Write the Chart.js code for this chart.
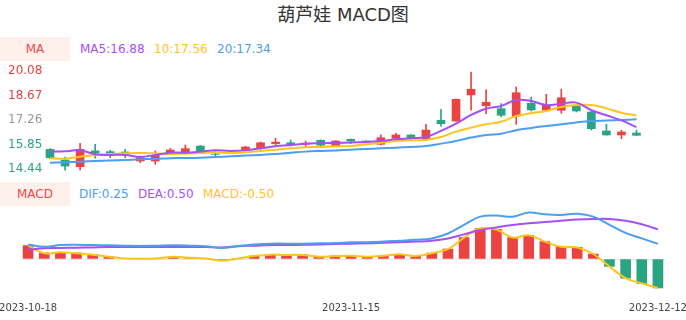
<!DOCTYPE html>
<html>
<head>
<meta charset="utf-8">
<script src="https://cdn.jsdelivr.net/npm/chart.js@4.4.0/dist/chart.umd.min.js"></script>
<style>
body{margin:0;width:686px;height:320px;position:relative;background:#fff;overflow:hidden;font-family:"DejaVu Sans","Noto Sans CJK SC",sans-serif}
.title{position:absolute;left:0;top:3px;width:686px;text-align:center;font-size:18px;line-height:24px;color:#333}
.tag{position:absolute;left:0;width:70px;height:24px;line-height:24px;background:#fdf0eb;color:#f04848;text-align:center;font-size:12px}
.leg{position:absolute;font-size:12px;line-height:24px;white-space:nowrap}
canvas{position:absolute;left:0}
</style>
</head>
<body>
<div class="title">葫芦娃 MACD图</div>

<div class="tag" style="top:37px">MA</div>
<div class="leg" style="top:37px;left:80px;color:#a64ff5">MA5:16.88</div>
<div class="leg" style="top:37px;left:154px;color:#ffc51a">10:17.56</div>
<div class="leg" style="top:37px;left:217px;color:#4c9ef0">20:17.34</div>

<div class="tag" style="top:182px">MACD</div>
<div class="leg" style="top:182px;left:79px;color:#4c9ef0">DIF:0.25</div>
<div class="leg" style="top:182px;left:138px;color:#a64ff5">DEA:0.50</div>
<div class="leg" style="top:182px;left:203px;color:#ffc51a">MACD:-0.50</div>

<canvas id="kline" width="686" height="120" style="top:61px"></canvas>
<canvas id="macd" width="686" height="120" style="top:200px"></canvas>

<script>
// trading days
var dates = ['2023-10-18','2023-10-19','2023-10-20','2023-10-23','2023-10-24','2023-10-25','2023-10-26','2023-10-27','2023-10-30','2023-10-31',
    '2023-11-01','2023-11-02','2023-11-03','2023-11-06','2023-11-07','2023-11-08','2023-11-09','2023-11-10','2023-11-13','2023-11-14',
    '2023-11-15','2023-11-16','2023-11-17','2023-11-20','2023-11-21','2023-11-22','2023-11-23','2023-11-24','2023-11-27','2023-11-28',
    '2023-11-29','2023-11-30','2023-12-01','2023-12-04','2023-12-05','2023-12-06','2023-12-07','2023-12-08','2023-12-11','2023-12-12'];
var shownDates = ['2023-10-18', '2023-11-15', '2023-12-12'];

var open  = [15.57,14.96,14.57,15.48,15.44,15.42,14.90,14.90,15.32,15.38,15.76,15.30,15.36,15.52,15.61,15.90,15.95,15.86,16.09,15.78,
             16.15,16.05,15.86,16.21,16.40,16.15,17.24,17.20,18.70,18.08,17.91,17.49,18.22,17.82,17.82,18.07,17.72,16.63,16.40,16.51];
var close = [15.09,14.61,15.57,15.36,15.29,15.30,15.09,15.23,15.53,15.61,15.44,15.28,15.35,15.71,15.95,15.99,15.82,15.93,15.81,16.05,
             16.05,15.98,16.24,16.40,16.21,16.68,17.05,18.45,19.03,18.28,17.53,18.83,17.84,18.11,18.54,17.78,16.76,16.40,16.57,16.38];
var high  = [15.62,15.13,15.92,15.86,15.52,15.57,15.19,15.48,15.63,15.82,15.80,15.52,15.38,15.75,16.00,16.21,16.11,16.05,16.12,16.07,
             16.17,16.07,16.40,16.49,16.42,17.01,17.88,18.47,20.02,18.99,18.20,19.16,18.58,18.74,19.03,18.10,17.75,17.01,16.67,16.67];
var low   = [15.05,14.37,14.38,15.06,15.09,15.09,14.80,14.71,15.29,15.32,15.40,15.09,15.33,15.50,15.57,15.81,15.76,15.71,15.78,15.76,
             15.90,15.95,15.83,16.13,16.18,16.10,16.91,17.18,17.82,17.62,17.45,17.01,17.78,17.78,17.65,17.72,16.68,16.38,16.18,16.36];

var ma5  = [15.44,15.46,15.52,15.29,15.25,15.25,15.13,15.25,15.38,15.38,15.44,15.52,15.48,15.52,15.63,15.75,15.82,15.90,15.92,15.94,
            15.97,15.99,16.05,16.15,16.21,16.28,16.63,17.05,17.55,17.91,18.07,18.41,18.35,18.12,18.20,18.26,17.82,17.53,17.24,16.85];
var ma10 = [15.06,15.03,15.15,15.25,15.30,15.34,15.36,15.34,15.30,15.32,15.36,15.40,15.36,15.40,15.48,15.55,15.63,15.69,15.71,15.75,
            15.76,15.86,15.95,16.05,16.09,16.11,16.28,16.59,16.82,17.01,17.16,17.49,17.65,17.78,18.01,18.12,18.12,17.93,17.68,17.52];
var ma20 = [14.80,14.83,14.86,14.90,14.93,14.96,15.00,15.02,15.06,15.07,15.09,15.13,15.17,15.21,15.25,15.30,15.37,15.44,15.48,15.51,
            15.55,15.59,15.63,15.67,15.71,15.76,15.90,16.05,16.25,16.40,16.47,16.67,16.80,16.91,17.01,17.12,17.20,17.23,17.26,17.30];
var priceTicks = [14.44, 15.85, 17.26, 18.67, 20.08];

var dif  = [0.25,0.21,0.24,0.245,0.24,0.235,0.23,0.225,0.23,0.235,0.23,0.22,0.19,0.225,0.25,0.265,0.265,0.265,0.27,0.275,
            0.29,0.29,0.30,0.315,0.33,0.355,0.44,0.59,0.73,0.75,0.73,0.80,0.77,0.76,0.78,0.73,0.59,0.45,0.355,0.26];
var dea  = [0.16,0.185,0.19,0.195,0.20,0.205,0.205,0.205,0.205,0.205,0.205,0.205,0.20,0.22,0.23,0.24,0.24,0.245,0.25,0.26,
            0.265,0.27,0.28,0.29,0.30,0.315,0.355,0.425,0.50,0.545,0.585,0.615,0.64,0.66,0.68,0.69,0.69,0.66,0.60,0.51];
var macd = [0.23,0.10,0.115,0.10,0.075,0.04,0.01,0.005,0.01,0.04,0.02,0.01,-0.03,0.01,0.05,0.075,0.07,0.07,0.04,0.05,
            0.055,0.04,0.055,0.08,0.05,0.10,0.17,0.37,0.53,0.51,0.37,0.41,0.30,0.21,0.20,0.086,-0.13,-0.33,-0.42,-0.50];

var RED = '#eb4242';
var GREEN = '#2aa583';
var PURPLE = '#a64ff5';
var YELLOW = '#ffc51a';
var BLUE = '#4c9ef0';

var candleColors = dates.map((d, i) => close[i] >= open[i] ? RED : GREEN);

function maLine(label, data, color) {
    return {
        type: 'line',
        label: label,
        data: data,
        borderColor: color,
        borderWidth: 2,
        pointRadius: 0,
        tension: 0.4,
        order: 0
    };
}

new Chart(document.getElementById('kline'), {
    type: 'bar',
    data: {
        labels: dates,
        datasets: [
            maLine('MA5', ma5, PURPLE),
            maLine('MA10', ma10, YELLOW),
            maLine('MA20', ma20, BLUE),
            {
                label: 'body',
                data: dates.map((d, i) => [open[i], close[i]]),
                backgroundColor: candleColors,
                barThickness: 8,
                grouped: false,
                clip: false,
                order: 1
            },
            {
                label: 'wick',
                data: dates.map((d, i) => [low[i], high[i]]),
                backgroundColor: candleColors,
                barThickness: 1,
                grouped: false,
                clip: false,
                order: 2
            }
        ]
    },
    options: {
        responsive: false,
        animation: false,
        layout: { padding: { left: 8, right: 42, top: 10, bottom: 12 } },
        plugins: { legend: { display: false }, tooltip: { enabled: false } },
        scales: {
            x: { display: false, offset: true },
            y: {
                min: 14.44,
                max: 20.08,
                afterBuildTicks: scale => { scale.ticks = priceTicks.map(v => ({ value: v })); },
                afterFit: scale => { scale.width = 34.5; },
                grid: { display: false, drawTicks: false },
                border: { display: false },
                ticks: {
                    crossAlign: 'far',
                    padding: 0,
                    font: { size: 12, family: 'DejaVu Sans' },
                    color: ctx => {
                        var v = ctx.tick.value;
                        if (v > priceTicks[2] + 0.01) return RED;
                        if (v < priceTicks[2] - 0.01) return GREEN;
                        return '#999';
                    },
                    callback: v => v.toFixed(2)
                }
            }
        }
    }
});

new Chart(document.getElementById('macd'), {
    type: 'bar',
    data: {
        labels: dates,
        datasets: [
            maLine('DIF', dif, BLUE),
            maLine('DEA', dea, PURPLE),
            maLine('MACD', macd, YELLOW),
            {
                label: 'hist',
                data: macd,
                backgroundColor: macd.map(v => v >= 0 ? RED : GREEN),
                barThickness: 10,
                order: 1
            }
        ]
    },
    options: {
        responsive: false,
        animation: false,
        layout: { padding: { left: 20, right: 20, top: 6.8, bottom: 8.2 } },
        plugins: { legend: { display: false }, tooltip: { enabled: false } },
        scales: {
            x: {
                offset: true,
                afterFit: scale => {
                    scale.height = 18;
                    scale.paddingLeft = 0;
                    scale.paddingRight = 0;
                },
                grid: { display: false, drawTicks: false },
                border: { display: false },
                ticks: {
                    autoSkip: false,
                    maxRotation: 0,
                    minRotation: 0,
                    padding: 9,
                    color: '#444',
                    font: { size: 10, family: 'DejaVu Sans' },
                    callback: (v, i) => shownDates.includes(dates[i]) ? dates[i] : ''
                }
            },
            y: {
                min: -0.6,
                max: 0.9,
                afterBuildTicks: scale => { scale.ticks = [{ value: 0 }]; },
                afterFit: scale => {
                    scale.width = 0;
                    scale.paddingTop = 0;
                    scale.paddingBottom = 0;
                },
                grid: { color: '#e6e6e6', drawTicks: false },
                border: { display: false },
                ticks: { display: false }
            }
        }
    }
});
</script>
</body>
</html>
